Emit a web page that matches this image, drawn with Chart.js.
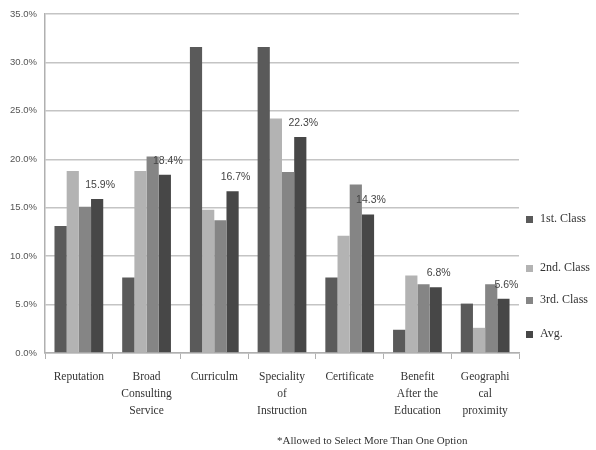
<!DOCTYPE html>
<html>
<head>
<meta charset="utf-8">
<script src="https://cdn.jsdelivr.net/npm/chart.js@4"></script>
<style>
  body { margin: 0; background: #fff; }
  #wrap { position: relative; width: 596px; height: 450px; }
  .leg { position: absolute; left: 526px; font: 12px "Liberation Serif", serif; color: #333; white-space: nowrap; }
  .leg i { display: inline-block; width: 7px; height: 7px; margin-right: 7px; vertical-align: middle; }
  #note { position: absolute; left: 277px; top: 434px; font: 11px "Liberation Serif", serif; color: #333; white-space: nowrap; }
</style>
</head>
<body>
<div id="wrap">
  <canvas id="c" width="596" height="450"></canvas>
  <div id="legend"></div>
  <div id="note">*Allowed to Select More Than One Option</div>
</div>
<script>
// categories and values (percent)
const categories = [
  'Reputation',
  ['Broad', 'Consulting', 'Service'],
  'Curriculm',
  ['Speciality', 'of', 'Instruction'],
  'Certificate',
  ['Benefit', 'After the', 'Education'],
  ['Geographi', 'cal', 'proximity']
];
const firstClass  = [13.1, 7.8, 31.6, 31.6, 7.8, 2.4, 5.1];
const secondClass = [18.8, 18.8, 14.8, 24.2, 12.1, 8.0, 2.6];
const thirdClass  = [15.1, 20.3, 13.7, 18.7, 17.4, 7.1, 7.1];
const average     = [15.9, 18.4, 16.7, 22.3, 14.3, 6.8, 5.6];
const yTicks = [0, 5, 10, 15, 20, 25, 30, 35];

const seriesNames = ['1st. Class', '2nd. Class', '3rd. Class', 'Avg.'];
const seriesColors = ['#5a5a5a', '#b3b3b3', '#858585', '#474747'];
const legendTops = [211, 260, 292, 326];

// legend (irregular spacing in the original)
const legendEl = document.getElementById('legend');
seriesNames.forEach((name, i) => {
    const d = document.createElement('div');
    d.className = 'leg';
    d.style.top = legendTops[i] + 'px';
    d.innerHTML = '<i style="background:' + seriesColors[i] + '"></i>' + name;
    legendEl.appendChild(d);
});

// value labels above the Avg. bars
const avgLabels = {
    id: 'avgLabels',
    afterDatasetsDraw(chart) {
        const ctx = chart.ctx;
        const meta = chart.getDatasetMeta(3);
        ctx.save();
        ctx.font = '10.5px "Liberation Sans Narrow", "Liberation Sans", sans-serif';
        ctx.fillStyle = '#444';
        ctx.textAlign = 'center';
        ctx.textBaseline = 'middle';
        meta.data.forEach((bar, i) => {
            ctx.fillText(average[i].toFixed(1) + '%', bar.x + 3, bar.y - 14);
        });
        ctx.restore();
    }
};

const dataSets = [firstClass, secondClass, thirdClass, average].map((vals, i) => ({
    label: seriesNames[i],
    data: vals,
    backgroundColor: seriesColors[i],
    borderWidth: 0,
    categoryPercentage: 0.72,
    barPercentage: 1.0
}));

new Chart(document.getElementById('c'), {
    type: 'bar',
    data: { labels: categories, datasets: dataSets },
    options: {
        responsive: false,
        animation: false,
        layout: { padding: { top: 14, right: 77, left: 0, bottom: 0 } },
        plugins: {
            legend: { display: false },
            tooltip: { enabled: false }
        },
        scales: {
            x: {
                grid: {
                    offset: true,
                    drawOnChartArea: false,
                    tickLength: 6,
                    color: '#b0b0b0'
                },
                border: { color: '#b0b0b0', width: 1.5 },
                ticks: {
                    color: '#333',
                    padding: 9,
                    maxRotation: 0,
                    autoSkip: false,
                    font: { family: '"Liberation Serif", serif', size: 11.5, lineHeight: 1.5 }
                },
                afterFit(scale) { scale.height = 97; }
            },
            y: {
                min: 0,
                max: 35,
                afterBuildTicks(scale) { scale.ticks = yTicks.map(v => ({ value: v })); },
                grid: { color: '#c4c4c4', lineWidth: 1.5, drawTicks: false },
                border: { color: '#b0b0b0', width: 1.5 },
                ticks: {
                    color: '#555',
                    padding: 8,
                    font: { family: '"Liberation Sans Narrow", "Liberation Sans", sans-serif', size: 9.5 },
                    callback: v => v.toFixed(1) + '%'
                },
                afterFit(scale) { scale.width = 45; }
            }
        }
    },
    plugins: [avgLabels]
});
</script>
</body>
</html>
